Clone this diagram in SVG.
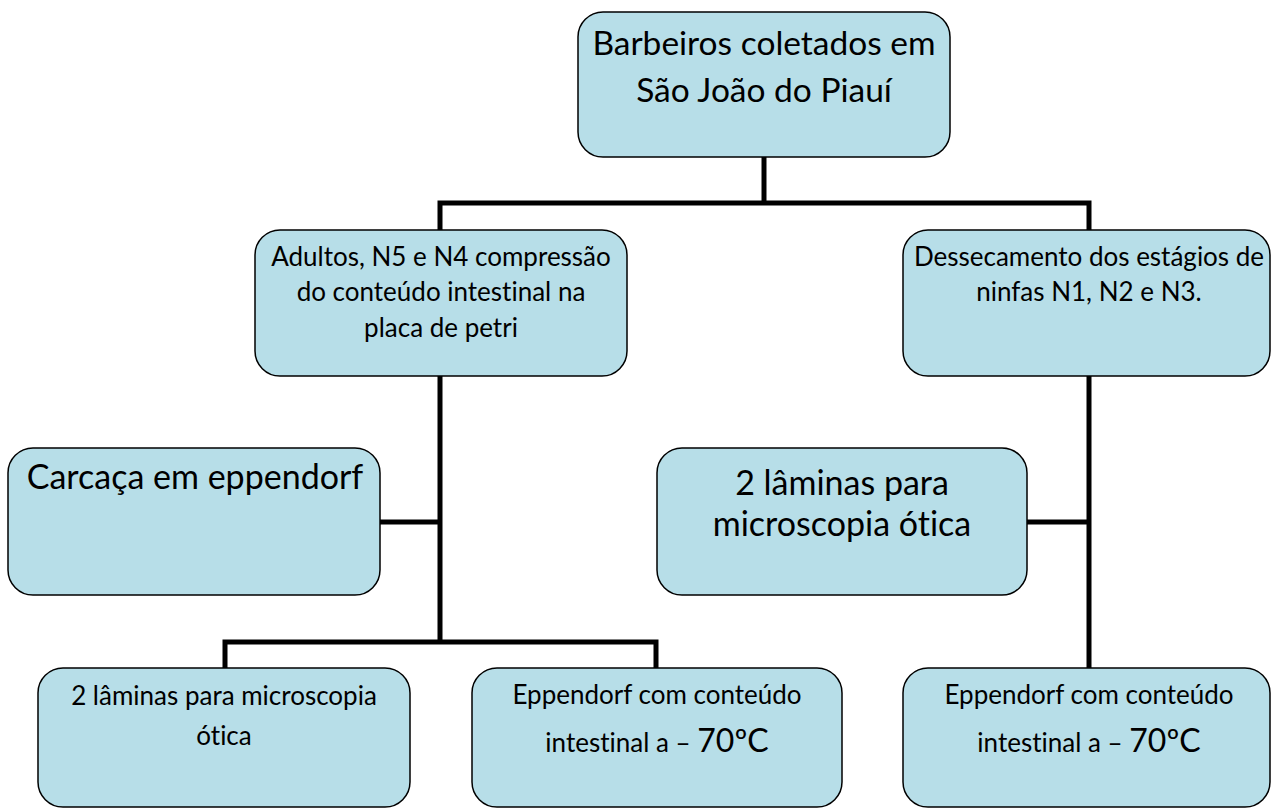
<svg xmlns="http://www.w3.org/2000/svg" width="1272" height="810" viewBox="0 0 1272 810">
<style>
.box{fill:#B7DEE8;stroke:#000;stroke-width:1.5}
.t{font-family:Lato,"Open Sans","Liberation Sans",sans-serif;fill:#000;text-anchor:middle;font-variant-ligatures:none}
.s24{font-size:26px}
.s30{font-size:34px}
.s32{font-size:33.5px}
.big{font-size:32px}
.c{fill:none;stroke:#000;stroke-width:5;stroke-linejoin:miter;stroke-linecap:butt}
</style>
<rect width="1272" height="810" fill="#fff"/>
<g id="connectors">
<path class="c" d="M764,157 V203"/>
<path class="c" d="M440,230 V203 H1089 V230"/>
<path class="c" d="M440,376 V642"/>
<path class="c" d="M380,522 H440"/>
<path class="c" d="M225,668 V642 H656 V668"/>
<path class="c" d="M1089,376 V668"/>
<path class="c" d="M1027,522 H1089"/>
</g>
<g id="n-top">
<rect class="box" x="578" y="12" width="372" height="145" rx="25"/>
<text class="t s32" x="764" y="55">Barbeiros coletados em</text>
<text class="t s32" x="764" y="102">São João do Piauí</text>
</g>
<g id="n-adultos">
<rect class="box" x="255" y="230" width="372" height="146" rx="25"/>
<text class="t s24" x="441" y="266">Adultos, N5 e N4 compressão</text>
<text class="t s24" x="441" y="301">do conteúdo intestinal na</text>
<text class="t s24" x="441" y="337">placa de petri</text>
</g>
<g id="n-dessecamento">
<rect class="box" x="903" y="230" width="367" height="146" rx="25"/>
<text class="t s24" x="1089" y="266">Dessecamento dos estágios de</text>
<text class="t s24" x="1089" y="301">ninfas N1, N2 e N3.</text>
</g>
<g id="n-carcaca">
<rect class="box" x="8" y="448" width="372" height="147" rx="25"/>
<text class="t s30" x="195" y="489">Carcaça em eppendorf</text>
</g>
<g id="n-laminas-dir">
<rect class="box" x="657" y="448" width="370" height="147" rx="25"/>
<text class="t s30" x="842" y="495">2 lâminas para</text>
<text class="t s30" x="842" y="536">microscopia ótica</text>
</g>
<g id="n-laminas-esq">
<rect class="box" x="38" y="668" width="372" height="139" rx="25"/>
<text class="t s24" x="224" y="705">2 lâminas para microscopia</text>
<text class="t s24" x="224" y="745">ótica</text>
</g>
<g id="n-eppendorf-esq">
<rect class="box" x="472" y="668" width="370" height="139" rx="25"/>
<text class="t s24" x="657" y="704">Eppendorf com conteúdo</text>
<text class="t s24" x="657" y="752">intestinal a – <tspan class="big">70ºC</tspan></text>
</g>
<g id="n-eppendorf-dir">
<rect class="box" x="903" y="668" width="367" height="139" rx="25"/>
<text class="t s24" x="1089" y="704">Eppendorf com conteúdo</text>
<text class="t s24" x="1089" y="752">intestinal a – <tspan class="big">70ºC</tspan></text>
</g>
</svg>
